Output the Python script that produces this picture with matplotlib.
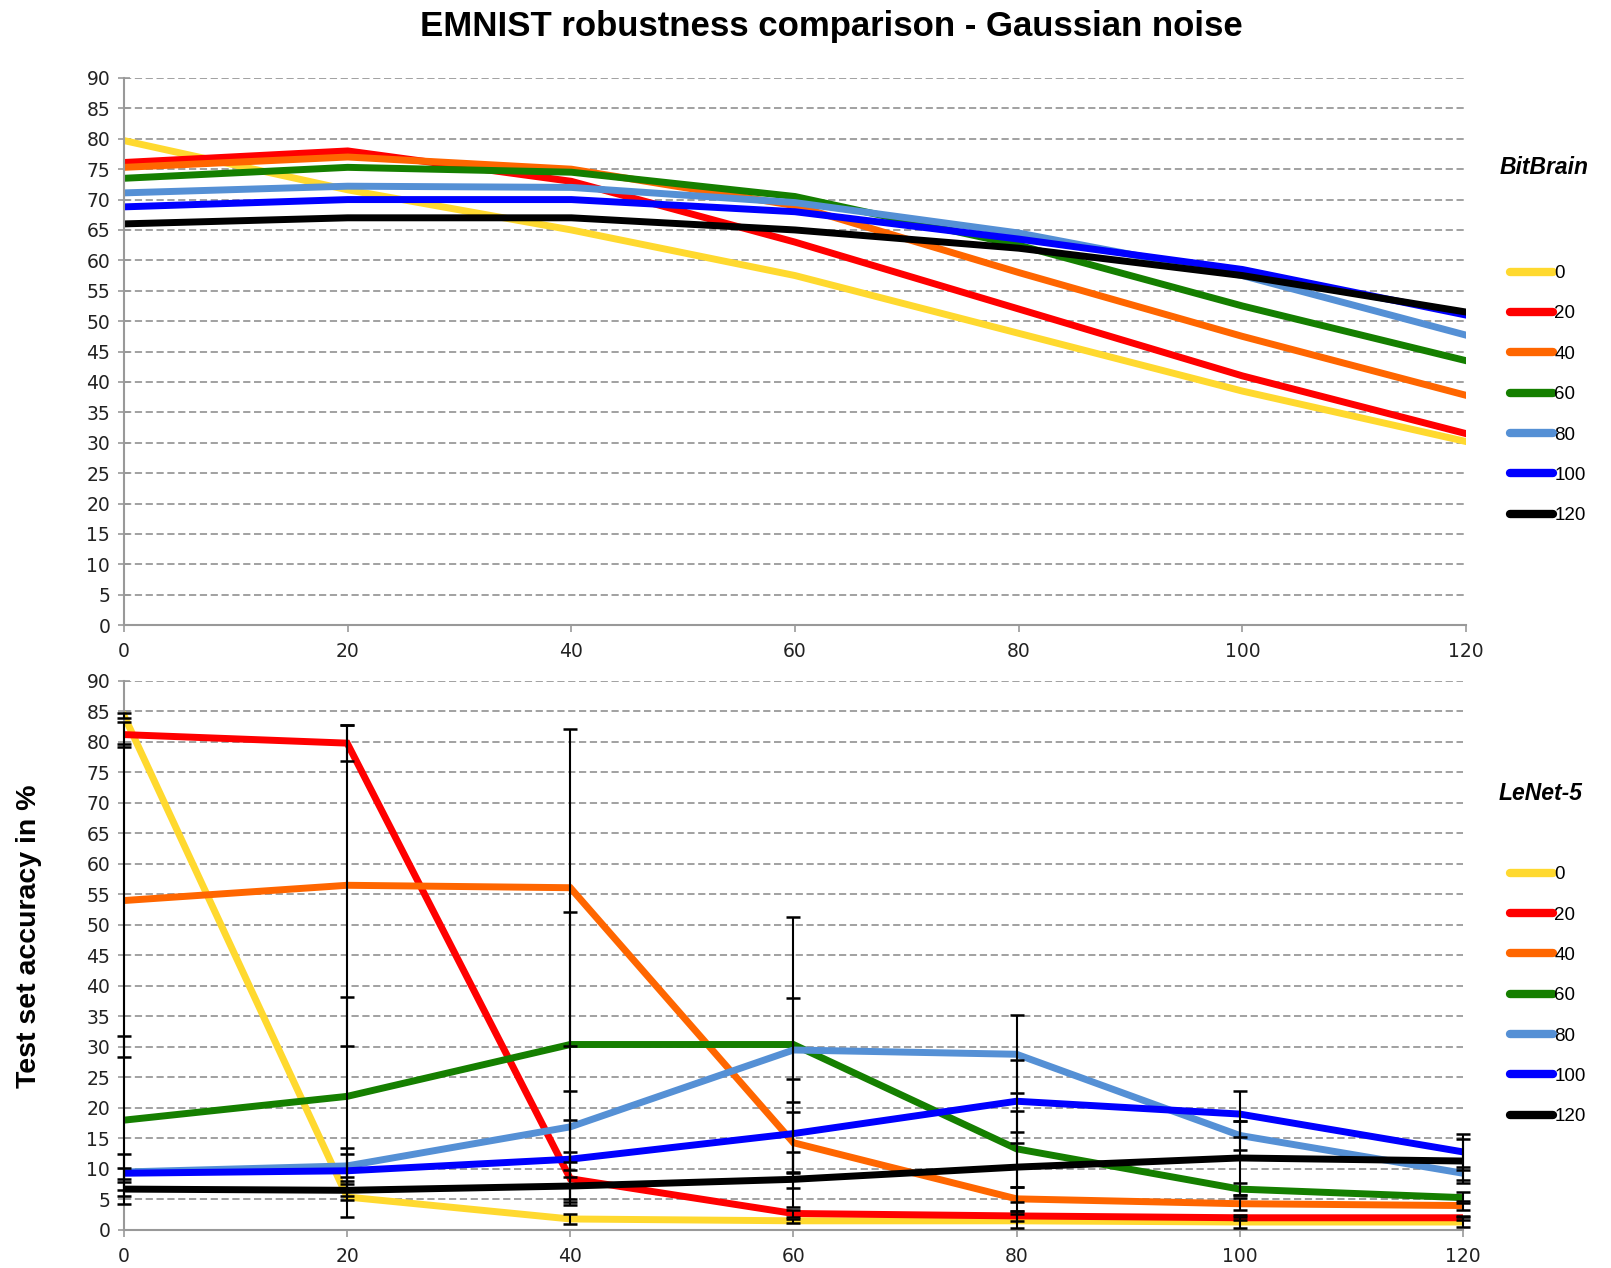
import numpy as np
import matplotlib.pyplot as plt

plt.rcParams['font.family'] = ['Liberation Sans', 'DejaVu Sans']

# noise levels (x axis) and training noise levels (one line each)
noise = [0, 20, 40, 60, 80, 100, 120]
train_levels = ['0', '20', '40', '60', '80', '100', '120']
colors = ['#FFD92F', '#FF0000', '#FF6600', '#157F00', '#5590D5', '#0000FF', '#000000']

# BitBrain accuracy in %
bb_0 = [79.7, 71.6, 65.0, 57.5, 48.0, 38.5, 30.2]
bb_20 = [76.1, 78.0, 73.0, 63.0, 52.0, 41.0, 31.5]
bb_40 = [75.3, 77.0, 75.0, 69.0, 58.0, 47.5, 37.8]
bb_60 = [73.5, 75.3, 74.5, 70.5, 62.5, 52.5, 43.5]
bb_80 = [71.1, 72.2, 72.0, 69.5, 64.5, 57.5, 47.7]
bb_100 = [68.8, 70.0, 70.0, 68.0, 63.5, 58.5, 51.0]
bb_120 = [66.0, 67.0, 67.0, 65.0, 62.0, 57.5, 51.5]

# LeNet-5 accuracy in % and standard deviation
ln_0 = [84.3, 5.4, 1.8, 1.5, 1.5, 1.3, 1.3]
ln_20 = [81.2, 79.8, 8.4, 2.7, 2.3, 2.0, 2.0]
ln_40 = [54.0, 56.5, 56.1, 14.3, 5.1, 4.3, 4.0]
ln_60 = [18.0, 21.9, 30.4, 30.4, 13.3, 6.7, 5.3]
ln_80 = [9.5, 10.5, 16.9, 29.5, 28.8, 15.5, 9.3]
ln_100 = [9.3, 9.7, 11.6, 15.8, 21.1, 19.0, 12.8]
ln_120 = [6.7, 6.5, 7.2, 8.3, 10.3, 11.8, 11.3]

ln_0_err = [0.4, 3.3, 0.8, 0.3, 1.1, 0.9, 0.8]
ln_20_err = [2.1, 3.0, 4.3, 0.6, 0.8, 0.4, 0.3]
ln_40_err = [25.7, 26.3, 26.0, 5.0, 2.0, 1.0, 0.8]
ln_60_err = [13.8, 16.3, 21.8, 20.9, 6.2, 1.0, 0.9]
ln_80_err = [3.0, 3.0, 5.8, 8.5, 6.4, 2.4, 1.1]
ln_100_err = [0.9, 2.8, 6.5, 9.0, 6.8, 3.7, 2.9]
ln_120_err = [1.1, 1.6, 2.6, 4.5, 5.7, 6.0, 3.6]

bitbrain = [bb_0, bb_20, bb_40, bb_60, bb_80, bb_100, bb_120]
lenet = [ln_0, ln_20, ln_40, ln_60, ln_80, ln_100, ln_120]
lenet_err = [ln_0_err, ln_20_err, ln_40_err, ln_60_err, ln_80_err, ln_100_err, ln_120_err]

fig = plt.figure(figsize=(16.11, 12.68), dpi=100)
ax1 = fig.add_axes([0.077, 0.507, 0.833, 0.4315])
ax2 = fig.add_axes([0.077, 0.030, 0.831, 0.433])


def style_axis(ax):
    ax.set_xlim(0, 120)
    ax.set_ylim(0, 90)
    ax.set_xticks(noise)
    ax.set_yticks(np.arange(0, 91, 5))
    ax.grid(axis='y', color='#9a9a9a', linestyle=(0, (4, 2)), linewidth=1.3)
    ax.set_axisbelow(True)
    for s in ['top', 'right']:
        ax.spines[s].set_visible(False)
    for s in ['left', 'bottom']:
        ax.spines[s].set_color('#999999')
        ax.spines[s].set_linewidth(1.5)
    ax.tick_params(colors='#999999', width=1.2, labelsize=13.5,
                   labelcolor='#222222', labelfontfamily='DejaVu Sans')
    ax.tick_params(axis='x', length=5, pad=7)
    ax.tick_params(axis='y', direction='inout', length=9, pad=5.5)
    ax.margins(0)


def add_legend(ax, title, x, y_title, y_leg):
    fig.text(x, y_title, title, fontsize=16.5, fontweight='bold', style='italic',
             ha='center', va='center')
    leg = ax.legend(loc='upper left', bbox_to_anchor=(0.9375, y_leg),
                    bbox_transform=fig.transFigure, frameon=False,
                    fontsize=13.5, handlelength=2.3, handletextpad=0.05,
                    labelspacing=1.24, borderpad=0, borderaxespad=0)
    for h in leg.get_lines():
        h.set_linewidth(6)
        h.set_solid_capstyle('round')


style_axis(ax1)
for vals, c, lab in zip(bitbrain, colors, train_levels):
    ax1.plot(noise, vals, color=c, lw=5, label=lab, solid_joinstyle='miter')
add_legend(ax1, 'BitBrain', 0.9585, 1 - 167 / 1268, 1 - 265 / 1268)

style_axis(ax2)
for vals, c, lab in zip(lenet, colors, train_levels):
    ax2.plot(noise, vals, color=c, lw=5, label=lab, solid_joinstyle='miter')
for vals, err in zip(lenet, lenet_err):
    ax2.errorbar(noise, vals, yerr=err, fmt='none', ecolor='black',
                 elinewidth=1.5, capsize=5, capthick=1.8, zorder=5, clip_on=False)
add_legend(ax2, 'LeNet-5', 0.9565, 1 - 794 / 1268, 1 - 866 / 1268)

fig.suptitle('EMNIST robustness comparison - Gaussian noise', x=0.516, y=0.979,
             fontsize=25, fontweight='bold', va='center')
fig.text(0.018, 0.262, 'Test set accuracy in %', rotation=90, fontsize=20.5,
         fontweight='bold', ha='center', va='center')

fig.savefig('out.png', dpi=100)
